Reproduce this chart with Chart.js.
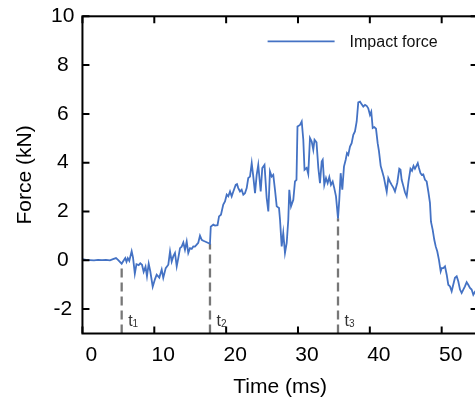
<!DOCTYPE html>
<html>
<head>
<meta charset="utf-8">
<script src="https://cdn.jsdelivr.net/npm/chart.js@4.4.0/dist/chart.umd.min.js"></script>
<style>
  html, body { margin: 0; padding: 0; overflow: hidden; background: #fff; }
</style>
</head>
<body>
<canvas id="force-chart" width="478" height="401"></canvas>
<script>
// impact force trace: time in ms, force in kN
const timeMs = [
  0.0, 0.49, 1.05, 1.61, 2.16, 2.72, 3.28, 3.83, 4.25, 4.67, 4.95, 5.46, 5.71, 5.96, 6.13, 6.31, 6.52, 6.85, 7.04, 7.29,
  7.52, 7.83, 8.05, 8.29, 8.52, 8.78, 8.98, 9.22, 9.44, 9.78, 10.10, 10.33, 10.70, 11.03, 11.25, 11.59, 11.95, 12.19, 12.42, 12.64,
  12.88, 13.12, 13.34, 13.58, 13.81, 14.04, 14.27, 14.51, 14.73, 14.97, 15.21, 15.43, 15.66, 15.90, 16.12, 16.36, 16.60, 16.82, 17.06, 17.52,
  17.75, 17.86, 18.21, 18.45, 18.80, 19.01, 19.28, 19.60, 19.84, 20.08, 20.30, 20.54, 20.77, 21.00, 21.33, 21.51, 21.69, 21.93, 22.16, 22.39,
  22.62, 22.86, 23.08, 23.32, 23.56, 23.78, 24.02, 24.25, 24.47, 24.81, 25.03, 25.34, 25.64, 25.87, 26.10, 26.34, 26.56, 26.80, 27.04, 27.36,
  27.50, 27.73, 27.95, 28.19, 28.43, 28.65, 28.79, 29.03, 29.35, 29.58, 29.79, 29.93, 30.28, 30.52, 30.74, 30.91, 31.21, 31.43, 31.67, 31.91,
  32.13, 32.30, 32.58, 32.83, 33.06, 33.30, 33.44, 33.66, 33.90, 34.13, 34.36, 34.59, 34.83, 35.05, 35.29, 35.57, 35.75, 35.94, 36.17, 36.40,
  36.64, 36.82, 37.00, 37.24, 37.47, 37.70, 37.93, 38.17, 38.39, 38.63, 38.84, 39.09, 39.33, 39.56, 39.78, 40.02, 40.20, 40.40, 40.62, 40.86,
  41.09, 41.27, 41.51, 41.73, 41.97, 42.21, 42.35, 42.57, 42.80, 43.04, 43.29, 43.50, 43.82, 44.10, 44.27, 44.43, 44.66, 44.89, 45.13, 45.38,
  45.66, 45.87, 46.08, 46.28, 46.52, 46.67, 46.84, 47.05, 47.23, 47.44, 47.68, 47.91, 48.14, 48.37, 48.51, 48.75, 48.97, 49.17, 49.39, 49.62,
  49.86, 50.00, 50.22, 50.46, 50.70, 50.92, 51.16, 51.39, 51.61, 51.85, 52.09, 52.31, 52.55, 52.78, 53.01, 53.24, 53.48, 53.70, 53.94, 54.17,
  54.40, 54.64, 54.91
];
const forceKN = [
  0.05, 0.02, 0.01, 0.0, 0.02, 0.01, 0.02, 0.0, 0.05, 0.09, 0.02, -0.14, -0.02, 0.09, -0.06, 0.09, -0.02, 0.37, 0.11, -0.55,
  -0.16, -0.20, -0.12, -0.18, -0.47, -0.26, -0.65, -0.14, -0.45, -1.08, -0.77, -0.59, -0.71, -0.38, -0.72, -0.32, -0.18, 0.36, -0.05, 0.16,
  0.30, -0.25, 0.09, 0.50, 0.56, 0.73, 0.43, 0.77, 0.30, 0.50, 0.47, 0.57, 0.56, 0.64, 0.72, 1.01, 0.84, 0.80, 0.77, 0.71,
  0.68, 1.38, 1.46, 1.42, 1.44, 1.80, 1.87, 2.28, 2.41, 2.69, 2.62, 2.82, 2.62, 2.82, 3.09, 3.12, 2.96, 2.82, 2.89, 2.69,
  2.75, 2.96, 3.37, 3.43, 3.98, 3.43, 2.75, 3.50, 3.91, 2.82, 3.78, 3.91, 2.56, 2.00, 3.64, 3.43, 3.50, 2.89, 2.21, 2.14,
  1.66, 0.57, 1.12, 0.30, 0.71, 1.66, 2.89, 2.21, 2.48, 3.23, 3.30, 5.48, 5.55, 5.69, 4.94, 3.71, 3.79, 3.54, 5.01, 4.87,
  4.53, 4.94, 4.83, 3.79, 3.16, 4.05, 4.12, 3.09, 3.37, 3.16, 3.41, 3.09, 3.23, 2.96, 2.62, 1.72, 2.48, 3.57, 2.89, 3.84,
  4.12, 4.39, 4.32, 4.66, 4.80, 5.14, 5.28, 5.69, 6.47, 6.50, 6.41, 6.30, 6.37, 6.33, 6.23, 5.96, 6.09, 5.42, 5.46, 5.39,
  4.80, 4.47, 3.87, 3.64, 3.38, 3.01, 2.81, 3.37, 3.22, 3.09, 2.97, 2.82, 3.18, 3.75, 3.71, 3.30, 3.05, 2.79, 2.62, 3.22,
  3.75, 3.67, 3.87, 3.75, 3.89, 3.98, 3.78, 3.57, 3.50, 3.52, 3.30, 3.23, 2.82, 2.35, 1.58, 1.25, 0.84, 0.57, 0.36, 0.02,
  -0.45, -0.32, -0.32, -0.25, -0.59, -1.00, -1.07, -1.27, -1.00, -0.72, -0.66, -0.86, -1.20, -1.34, -1.20, -1.07, -0.90, -1.00, -1.13, -1.20,
  -1.41, -1.29, -1.33
];

// event times t1..t3 and the force at each
const markerTimes = [5.46, 17.75, 35.57];
const markerForces = [-0.14, 0.68, 1.72];
const markerNames = ['1', '2', '3'];

const xTicks = [0, 10, 20, 30, 40, 50];
const yTicks = [-2, 0, 2, 4, 6, 8, 10];

const FONT = '"Liberation Sans", Arial, Helvetica, sans-serif';

const traceData = timeMs.map((t, i) => ({ x: t, y: forceKN[i] }));

const markerSets = markerTimes.map((t, i) => ({
  label: 't' + markerNames[i],
  data: [{ x: t, y: -3 }, { x: t, y: markerForces[i] }],
  borderColor: '#777777',
  borderWidth: 2.3,
  borderDash: [9, 5],
  pointRadius: 0
}));

// box frame with inward ticks, legend and t labels
const framePlugin = {
  id: 'frame',
  afterDatasetsDraw(chart) {
    const { ctx, chartArea: a, scales } = chart;
    const x = scales.x, y = scales.y;
    ctx.save();
    ctx.strokeStyle = '#000';
    ctx.lineWidth = 2;
    ctx.strokeRect(a.left, a.top, a.right - a.left, a.bottom - a.top);
    ctx.beginPath();
    xTicks.forEach(v => {
      const px = x.getPixelForValue(v);
      ctx.moveTo(px, a.bottom); ctx.lineTo(px, a.bottom - 7);
      ctx.moveTo(px, a.top); ctx.lineTo(px, a.top + 7);
    });
    yTicks.forEach(v => {
      const py = y.getPixelForValue(v);
      ctx.moveTo(a.left, py); ctx.lineTo(a.left + 7, py);
      ctx.moveTo(a.right, py); ctx.lineTo(a.right - 7, py);
    });
    ctx.stroke();

    // legend
    const ly = a.top + 25;
    ctx.strokeStyle = '#4472c4';
    ctx.lineWidth = 1.8;
    ctx.beginPath();
    ctx.moveTo(a.right - 210, ly);
    ctx.lineTo(a.right - 143, ly);
    ctx.stroke();
    ctx.fillStyle = '#111';
    ctx.font = '16px ' + FONT;
    ctx.textBaseline = 'middle';
    ctx.textAlign = 'left';
    ctx.fillText('Impact force', a.right - 128, ly + 1);

    // t1, t2, t3
    ctx.fillStyle = '#333';
    ctx.textBaseline = 'alphabetic';
    markerTimes.forEach((t, i) => {
      const px = x.getPixelForValue(t) + 6.5;
      ctx.font = '16px ' + FONT;
      ctx.fillText('t', px, a.bottom - 8);
      const w = ctx.measureText('t').width;
      ctx.font = '10px ' + FONT;
      ctx.fillText(markerNames[i], px + w, a.bottom - 7);
    });
    ctx.restore();
  }
};

const ctx = document.getElementById('force-chart').getContext('2d');
const chart = new Chart(ctx, {
  type: 'line',
  data: {
    datasets: [{
      label: 'Impact force',
      data: traceData,
      borderColor: '#4472c4',
      borderWidth: 1.8,
      pointRadius: 0,
      tension: 0
    }, ...markerSets]
  },
  options: {
    responsive: false,
    animation: false,
    layout: { padding: { top: 16.3, right: 0.4, left: 0, bottom: 0 } },
    plugins: {
      legend: { display: false },
      tooltip: { enabled: false }
    },
    scales: {
      x: {
        type: 'linear',
        min: 0,
        max: 55,
        afterBuildTicks: s => { s.ticks = xTicks.map(v => ({ value: v })); },
        afterFit: s => { s.height = 67.5; },
        grid: { display: false, drawTicks: false },
        border: { display: false },
        ticks: { color: '#000', font: { family: FONT, size: 21 }, padding: 9, labelOffset: 9, maxRotation: 0 },
        title: { display: true, text: 'Time (ms)', color: '#000', font: { family: FONT, size: 21 }, padding: { top: 0, bottom: 1.4 } }
      },
      y: {
        min: -3,
        max: 10,
        afterBuildTicks: s => { s.ticks = yTicks.map(v => ({ value: v })); },
        afterFit: s => {
          s.width = 82.45;
          // top label may overhang the frame
          s.paddingTop = 0;
          s.paddingBottom = 0;
        },
        grid: { display: false, drawTicks: false },
        border: { display: false },
        ticks: { color: '#000', font: { family: FONT, size: 21 }, padding: 8, crossAlign: 'center' },
        title: { display: true, text: 'Force (kN)', color: '#000', font: { family: FONT, size: 21 }, padding: { top: 12.4, bottom: 0 } }
      }
    }
  },
  plugins: [framePlugin]
});
</script>
</body>
</html>
